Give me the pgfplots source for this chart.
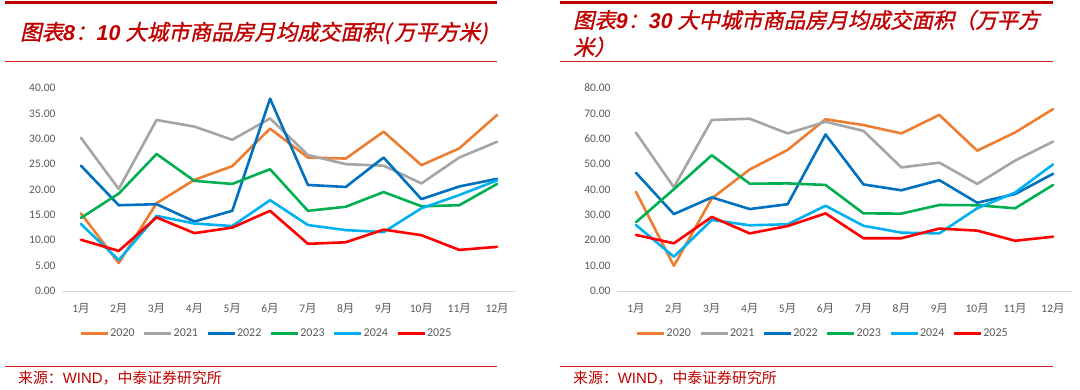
\documentclass[border=0pt]{standalone}
\usepackage{fontspec}
\setmainfont{Carlito}
\newfontfamily\cjk{Noto Sans CJK SC}
\newfontfamily\cjkti{Noto Sans CJK SC}[FakeSlant=0.22,FakeBold=1.2]
\newfontfamily\arial{Liberation Sans}
\usepackage{pgfplots}
\usepackage{pgfplotstable}
\pgfplotsset{compat=1.18}
\definecolor{c20}{HTML}{ED7D31}
\definecolor{c21}{HTML}{A5A5A5}
\definecolor{c22}{HTML}{0070C0}
\definecolor{c23}{HTML}{00B050}
\definecolor{c24}{HTML}{00B0F0}
\definecolor{c25}{HTML}{FF0000}
\definecolor{tred}{HTML}{C00000}
\definecolor{lred}{HTML}{D42020}
\definecolor{tickgray}{HTML}{595959}
\newcommand\yue{{\cjk 月}}

\pgfplotstableread{
m a20 a21 a22 a23 a24 a25
1 15.3 30.2 24.7 14.4 13.2 10.1
2 5.5 20.1 16.9 19.2 6.1 7.9
3 17.3 33.7 17.1 27.0 14.8 14.5
4 21.9 32.4 13.7 21.7 13.3 11.4
5 24.6 29.8 15.8 21.1 12.8 12.5
6 32.0 34.0 37.9 24.0 17.9 15.8
7 26.3 26.8 20.9 15.8 13.0 9.3
8 26.1 25.0 20.5 16.6 12.0 9.6
9 31.4 24.7 26.3 19.5 11.6 12.1
10 24.8 21.2 18.1 16.7 16.3 11.0
11 28.1 26.3 20.6 16.9 18.9 8.1
12 34.7 29.4 22.1 21.1 21.8 8.7
}\tenA

\pgfplotstableread{
m a20 a21 a22 a23 a24 a25
1 39.1 62.4 46.6 27.1 26.0 22.1
2 9.9 40.9 30.3 40.1 13.5 18.8
3 36.5 67.4 36.9 53.5 28.0 29.2
4 47.9 67.9 32.3 42.3 25.9 22.7
5 55.6 62.1 34.2 42.4 26.3 25.6
6 67.7 66.7 61.7 41.8 33.6 30.6
7 65.4 63.1 42.0 30.6 25.7 20.8
8 62.1 48.7 39.7 30.5 23.0 20.8
9 69.4 50.6 43.7 33.9 22.7 24.6
10 55.3 42.2 34.8 33.8 32.6 23.8
11 62.5 51.4 38.2 32.6 38.8 19.8
12 71.7 58.9 46.2 41.8 49.9 21.4
}\thirtyB

\pgfplotsset{myax/.style={
  scale only axis, height=203pt, anchor=south west,
  xmin=0.5, xmax=12.5, ymin=0,
  xtick={1,...,12},
  xticklabels={1\yue,2\yue,3\yue,4\yue,5\yue,6\yue,7\yue,8\yue,9\yue,10\yue,11\yue,12\yue},
  axis x line=bottom, axis y line=left,
  x axis line style={-, draw=black!15, line width=0.9pt},
  y axis line style={draw=none},
  major tick length=0pt,
  tick label style={font=\fontsize{11.5}{12}\selectfont, text=tickgray},
  xticklabel style={yshift=-9pt},
  yticklabel style={xshift=-3pt, /pgf/number format/.cd, fixed, fixed zerofill, precision=2},
  /pgf/number format/assume math mode=true,
  every axis plot/.append style={line width=2.6pt, line join=round, line cap=round, no marks},
  legend columns=6,
  legend image code/.code={\draw[##1, line width=3pt, line cap=butt] (0pt,0pt)--(27pt,0pt);},
  legend style={draw=none, fill=none, anchor=center,
    font=\fontsize{12}{12}\selectfont, text=tickgray,
    nodes={inner xsep=1pt, inner ysep=1pt},
    /tikz/every even column/.append style={column sep=7pt}},
}}

\begin{document}
\begin{tikzpicture}
\path[use as bounding box] (0pt,0pt) rectangle (1080pt,-389pt);

% ---- left panel frame ----
\draw[tred, line width=2.6pt] (5pt,-2.5pt) -- (497pt,-2.5pt);
\draw[lred, line width=1pt] (5pt,-61.5pt) -- (497pt,-61.5pt);
\node[anchor=west, text=tred, inner sep=0] at (20pt,-33pt)
  {\fontsize{21.5}{24}\selectfont\cjkti 图表{\arial\bfseries\itshape 8}：{\arial\bfseries\itshape 10} 大城市商品房月均成交面积({\,}万平方米)};
\draw[lred, line width=1pt] (5pt,-366pt) -- (497pt,-366pt);
\node[anchor=west, text=tred, inner sep=0] at (18pt,-378pt)
  {\fontsize{14.9}{16}\selectfont\cjk 来源：{\arial WIND}，中泰证券研究所};

% ---- right panel frame ----
\draw[tred, line width=2.6pt] (560pt,-2.5pt) -- (1053pt,-2.5pt);
\draw[lred, line width=1pt] (560pt,-61.5pt) -- (1053pt,-61.5pt);
\node[anchor=west, text=tred, inner sep=0] at (573pt,-20pt)
  {\fontsize{21.3}{24}\selectfont\cjkti 图表{\arial\bfseries\itshape 9}：{\arial\bfseries\itshape 30} 大中城市商品房月均成交面积（万平方};
\node[anchor=west, text=tred, inner sep=0] at (573pt,-47pt)
  {\fontsize{21.3}{24}\selectfont\cjkti 米）};
\draw[lred, line width=1pt] (560pt,-366pt) -- (1053pt,-366pt);
\node[anchor=west, text=tred, inner sep=0] at (573pt,-378pt)
  {\fontsize{14.9}{16}\selectfont\cjk 来源：{\arial WIND}，中泰证券研究所};

% ---- left chart ----
\begin{axis}[myax, at={(62pt,-291pt)}, width=454pt, ymax=40, ytick={0,5,...,40},
  legend style={at={(0.449,-0.207)}}]
\addplot[c20] table[x=m,y=a20] {\tenA};
\addplot[c21] table[x=m,y=a21] {\tenA};
\addplot[c22] table[x=m,y=a22] {\tenA};
\addplot[c23] table[x=m,y=a23] {\tenA};
\addplot[c24] table[x=m,y=a24] {\tenA};
\addplot[c25] table[x=m,y=a25] {\tenA};
\legend{2020,2021,2022,2023,2024,2025}
\end{axis}

% ---- right chart ----
\begin{axis}[myax, at={(617pt,-291pt)}, width=455pt, ymax=80, ytick={0,10,...,80},
  legend style={at={(0.451,-0.207)}}]
\addplot[c20] table[x=m,y=a20] {\thirtyB};
\addplot[c21] table[x=m,y=a21] {\thirtyB};
\addplot[c22] table[x=m,y=a22] {\thirtyB};
\addplot[c23] table[x=m,y=a23] {\thirtyB};
\addplot[c24] table[x=m,y=a24] {\thirtyB};
\addplot[c25] table[x=m,y=a25] {\thirtyB};
\legend{2020,2021,2022,2023,2024,2025}
\end{axis}
\end{tikzpicture}
\end{document}
